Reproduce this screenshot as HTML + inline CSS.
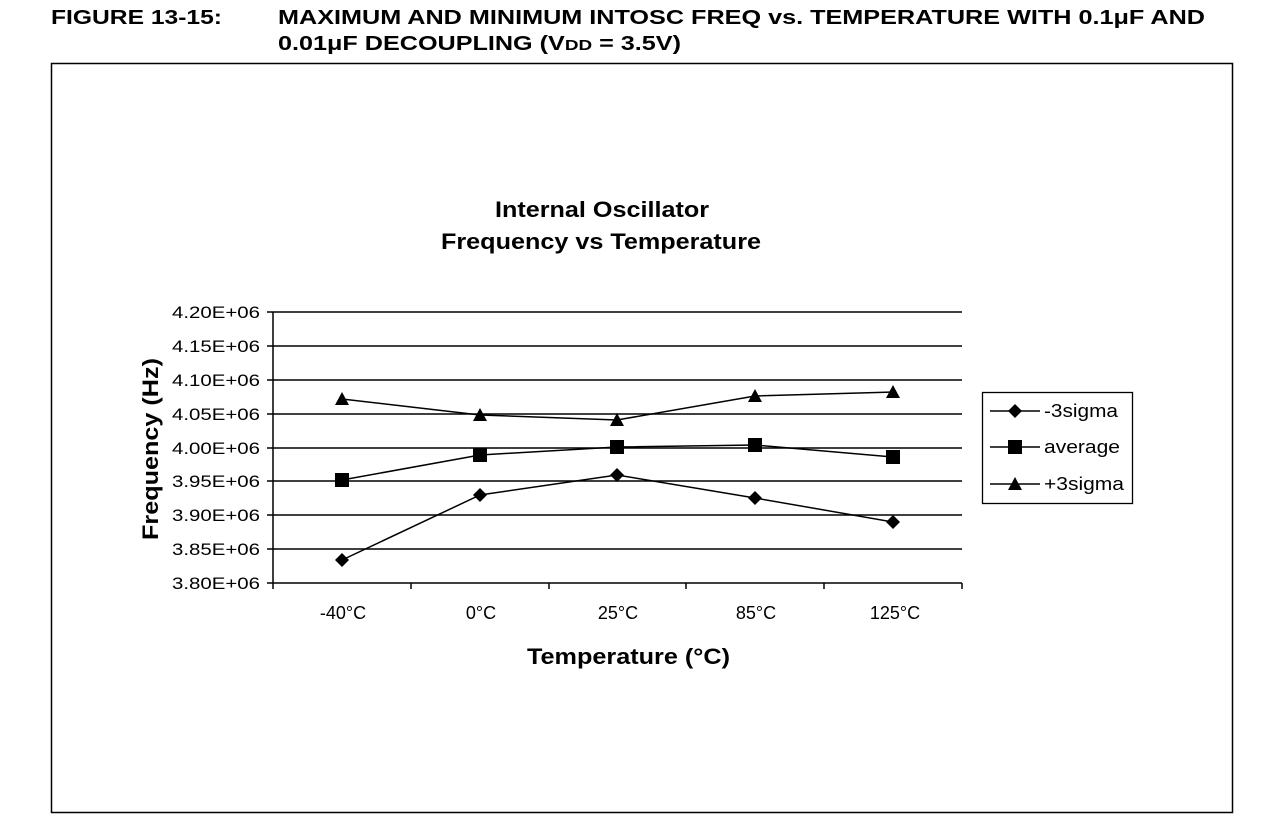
<!DOCTYPE html>
<html><head><style>
body{margin:0;background:#fff;width:1280px;height:830px;overflow:hidden;font-family:"Liberation Sans",Arial,sans-serif;}
</style></head><body>
<svg width="1280" height="830" xmlns="http://www.w3.org/2000/svg" font-family="Liberation Sans, Arial, sans-serif">
<text x="51" y="24" font-size="20" font-weight="bold" textLength="171" lengthAdjust="spacingAndGlyphs">FIGURE 13-15:</text>
<text x="278" y="24" font-size="20" font-weight="bold" textLength="927" lengthAdjust="spacingAndGlyphs">MAXIMUM AND MINIMUM INTOSC FREQ vs. TEMPERATURE WITH 0.1μF AND</text>
<text x="278" y="50" font-size="20" font-weight="bold" textLength="403" lengthAdjust="spacingAndGlyphs">0.01μF DECOUPLING (V<tspan font-size="15">DD</tspan> = 3.5V)</text>
<rect x="51.5" y="63.5" width="1181" height="749" fill="none" stroke="#000" stroke-width="1.5"/>
<text x="495" y="217" font-size="22" font-weight="bold" textLength="214" lengthAdjust="spacingAndGlyphs">Internal Oscillator</text>
<text x="441" y="249" font-size="22" font-weight="bold" textLength="320" lengthAdjust="spacingAndGlyphs">Frequency vs Temperature</text>
<g stroke="#000" stroke-width="1.5">
<line x1="273" y1="312" x2="962" y2="312"/><line x1="273" y1="346" x2="962" y2="346"/>
<line x1="273" y1="380" x2="962" y2="380"/><line x1="273" y1="414" x2="962" y2="414"/>
<line x1="273" y1="448" x2="962" y2="448"/><line x1="273" y1="481" x2="962" y2="481"/>
<line x1="273" y1="515" x2="962" y2="515"/><line x1="273" y1="549" x2="962" y2="549"/>
<line x1="273" y1="583" x2="962" y2="583"/>
<line x1="273" y1="312" x2="273" y2="589"/>
<line x1="411" y1="583" x2="411" y2="589"/><line x1="549" y1="583" x2="549" y2="589"/>
<line x1="686" y1="583" x2="686" y2="589"/><line x1="824" y1="583" x2="824" y2="589"/><line x1="962" y1="583" x2="962" y2="589"/>
<line x1="267" y1="312" x2="273" y2="312"/><line x1="267" y1="346" x2="273" y2="346"/><line x1="267" y1="380" x2="273" y2="380"/><line x1="267" y1="414" x2="273" y2="414"/><line x1="267" y1="448" x2="273" y2="448"/><line x1="267" y1="481" x2="273" y2="481"/><line x1="267" y1="515" x2="273" y2="515"/><line x1="267" y1="549" x2="273" y2="549"/><line x1="267" y1="583" x2="273" y2="583"/>
</g>
<g font-size="17">
<text x="172" y="318" textLength="88" lengthAdjust="spacingAndGlyphs">4.20E+06</text><text x="172" y="352" textLength="88" lengthAdjust="spacingAndGlyphs">4.15E+06</text><text x="172" y="386" textLength="88" lengthAdjust="spacingAndGlyphs">4.10E+06</text><text x="172" y="420" textLength="88" lengthAdjust="spacingAndGlyphs">4.05E+06</text><text x="172" y="454" textLength="88" lengthAdjust="spacingAndGlyphs">4.00E+06</text><text x="172" y="487" textLength="88" lengthAdjust="spacingAndGlyphs">3.95E+06</text><text x="172" y="521" textLength="88" lengthAdjust="spacingAndGlyphs">3.90E+06</text><text x="172" y="555" textLength="88" lengthAdjust="spacingAndGlyphs">3.85E+06</text><text x="172" y="589" textLength="88" lengthAdjust="spacingAndGlyphs">3.80E+06</text>
</g>
<g font-size="18" text-anchor="middle">
<text x="343" y="619">-40°C</text><text x="481" y="619">0°C</text><text x="618" y="619">25°C</text><text x="756" y="619">85°C</text><text x="895" y="619">125°C</text>
</g>
<text x="527" y="664" font-size="22" font-weight="bold" textLength="203" lengthAdjust="spacingAndGlyphs">Temperature (°C)</text>
<text transform="translate(158,540) rotate(-90)" font-size="22" font-weight="bold" textLength="182" lengthAdjust="spacingAndGlyphs">Frequency (Hz)</text>
<g fill="none" stroke="#000" stroke-width="1.5">
<polyline points="342,560 480,495 617,475 755,498 893,522"/>
<polyline points="342,480 480,455 617,447 755,445 893,457"/>
<polyline points="342,399 480,415 617,420 755,396 893,392"/>
</g>
<g fill="#000">
<path d="M342,553 L349,560 L342,567 L335,560Z"/><path d="M480,488 L487,495 L480,502 L473,495Z"/><path d="M617,468 L624,475 L617,482 L610,475Z"/><path d="M755,491 L762,498 L755,505 L748,498Z"/><path d="M893,515 L900,522 L893,529 L886,522Z"/>
<rect x="335" y="473" width="14" height="14"/><rect x="473" y="448" width="14" height="14"/><rect x="610" y="440" width="14" height="14"/><rect x="748" y="438" width="14" height="14"/><rect x="886" y="450" width="14" height="14"/>
<path d="M342,392 L349,405 L335,405Z"/><path d="M480,408 L487,421 L473,421Z"/><path d="M617,413 L624,426 L610,426Z"/><path d="M755,389 L762,402 L748,402Z"/><path d="M893,385 L900,398 L886,398Z"/>
</g>
<rect x="982.5" y="392.5" width="150" height="111" fill="#fff" stroke="#000" stroke-width="1.3"/>
<g stroke="#000" stroke-width="1.5"><line x1="990" y1="411" x2="1040" y2="411"/><line x1="990" y1="447" x2="1040" y2="447"/><line x1="990" y1="484" x2="1040" y2="484"/></g>
<path d="M1015,404 L1022,411 L1015,418 L1008,411Z"/><rect x="1008" y="440" width="14" height="14"/><path d="M1015,477 L1022,490 L1008,490Z"/>
<g font-size="18"><text x="1044" y="417" textLength="74" lengthAdjust="spacingAndGlyphs">-3sigma</text><text x="1044" y="453" textLength="76" lengthAdjust="spacingAndGlyphs">average</text><text x="1044" y="490" textLength="80" lengthAdjust="spacingAndGlyphs">+3sigma</text></g>
</svg>
</body></html>
